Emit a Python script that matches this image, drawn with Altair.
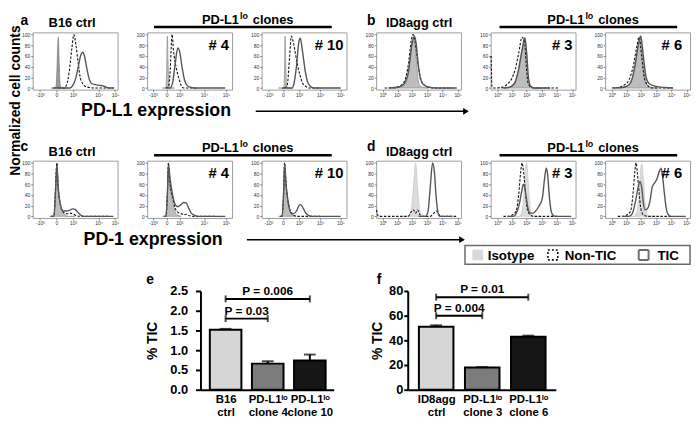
import altair as alt
import pandas as pd

FONT = "Liberation Sans"

# ---------------- histogram axes ----------------
BIEX_LABELS = ["-10³", "0", "10³", "10⁴", "10⁵"]
LOG_LABELS = ["10⁰", "10¹", "10²", "10³", "10⁴", "10⁵"]
TICKS_B16_CTRL = [8.5, 28, 47.5, 77.5, 97]
TICKS_B16_C4 = [7, 23, 38, 67, 93]
TICKS_B16_C10 = [8, 25, 44, 69, 93]
TICKS_ID8 = [8, 25, 42, 60, 78, 96]
COUNT_TICKS = [0, 20, 40, 60, 80, 100]

# ---------------- histogram curves: [axis position (0-100), % of max] ----------------
# a: PD-L1 on B16
ISO_A_CTRL = [[22, 0], [27, 0], [28.5, 30], [29.5, 80], [30.2, 95], [31, 60], [32, 15], [33, 3], [34.5, 0], [40, 0]]
NON_A_CTRL = [[30, 0], [37, 0], [40, 6], [43, 30], [46, 72], [48.5, 100], [51, 80], [53.5, 48], [56, 20], [59, 8], [62, 3], [67, 1], [72, 0], [95, 0]]
TIC_A_CTRL = [[24, 0], [44, 0], [47, 4], [51, 20], [54, 42], [57, 63], [59, 67], [61, 60], [64, 35], [67, 15], [70, 8], [75, 6], [80, 5], [83, 4], [86, 2], [90, 0], [96, 0]]
ISO_A_4 = [[18, 0], [22, 0], [23, 40], [23.8, 97], [24.6, 50], [25.5, 10], [26.5, 0], [32, 0]]
NON_A_4 = [[22, 0], [25, 2], [27, 30], [29.4, 100], [31, 70], [34, 40], [37, 20], [40, 5], [43, 0], [60, 0]]
TIC_A_4 = [[22, 0], [27, 0], [30, 10], [33, 45], [36, 75], [38, 70], [41, 40], [44, 15], [47, 5], [52, 1], [58, 0], [92, 0]]
ISO_A_10 = [[20, 0], [26, 0], [27, 40], [27.5, 97], [28.3, 50], [29.3, 8], [30.5, 0], [35, 0]]
NON_A_10 = [[27, 0], [30, 5], [33, 60], [35, 97], [38, 80], [42, 45], [45, 25], [48, 10], [52, 3], [56, 0], [70, 0]]
TIC_A_10 = [[24, 0], [36, 0], [38, 8], [41, 40], [44, 88], [45.5, 93], [48, 70], [51, 35], [54, 12], [57, 4], [62, 0], [93, 0]]
# b: PD-L1 on ID8agg
ISO_B_CTRL = [[20, 0], [28, 2], [33, 6], [37, 20], [40, 55], [42.5, 88], [44, 95], [45.5, 85], [47.5, 50], [49.5, 15], [52, 4], [56, 1], [62, 0]]
NON_B_CTRL = [[10, 0], [22, 1], [29, 5], [34, 15], [38, 45], [41.5, 90], [43.5, 100], [45.5, 90], [48.5, 55], [51.5, 25], [55, 8], [61, 2], [70, 0], [90, 0]]
TIC_B_CTRL = [[15, 0], [27, 2], [33, 8], [38, 30], [42, 80], [45, 97], [47, 85], [49.5, 45], [52, 18], [56, 6], [64, 1], [75, 0], [95, 0]]
ISO_B_3 = [[12, 0], [20, 1], [27, 8], [32, 30], [36, 65], [40, 95], [42, 70], [44, 25], [46, 5], [50, 0], [60, 0]]
NON_B_3 = [[0.5, 60], [1.5, 3], [4, 0], [15, 2], [20, 8], [25, 18], [29, 35], [33, 65], [37, 95], [40, 85], [42, 40], [44, 10], [47, 2], [52, 0], [80, 0]]
TIC_B_3 = [[15, 0], [21, 1], [28, 8], [33, 35], [37, 70], [40.5, 93], [42.5, 65], [44.5, 20], [47, 4], [52, 0], [70, 0]]
ISO_B_6 = [[15, 0], [22, 1], [28, 6], [33, 25], [37, 60], [41.5, 98], [44, 60], [47, 20], [50, 5], [55, 1], [62, 0]]
NON_B_6 = [[8, 0], [15, 1], [22, 5], [28, 15], [33, 40], [37, 75], [40, 95], [43, 60], [46, 20], [50, 5], [55, 0], [80, 0]]
TIC_B_6 = [[10, 0], [20, 1], [25, 3], [30, 10], [35, 40], [39, 80], [42, 97], [45, 60], [48, 22], [52, 8], [60, 3], [70, 1], [80, 0]]
# c: PD-1 on B16
ISO_C_CTRL = [[20, 0], [25, 0], [26.5, 25], [27.7, 80], [28.5, 97], [30, 60], [32, 25], [35, 10], [38, 3], [42, 0], [50, 0]]
NON_C_CTRL = [[22, 0], [25, 0], [26.5, 40], [28.5, 100], [30, 55], [33, 20], [36, 8], [40, 5], [44, 6], [48, 4], [52, 1], [58, 0], [90, 0]]
TIC_C_CTRL = [[22, 0], [25, 0], [27, 50], [28.5, 95], [30, 55], [33, 20], [36, 10], [40, 10], [43, 11], [47, 14], [50, 13], [53, 8], [56, 3], [60, 0], [95, 0]]
ISO_C_4 = [[18, 0], [22, 0], [23.5, 30], [25, 95], [26.5, 70], [29, 35], [31, 20], [33, 8], [36, 2], [40, 0]]
NON_C_4 = [[20, 0], [22, 0], [24, 50], [25, 100], [27, 60], [30, 35], [33, 15], [36, 8], [40, 5], [43, 3], [46, 4], [50, 1], [55, 0], [80, 0]]
TIC_C_4 = [[20, 0], [22, 0], [24, 50], [25, 95], [27, 70], [30, 40], [33, 22], [36, 18], [40, 22], [43, 26], [46, 25], [49, 15], [52, 6], [56, 2], [60, 0], [92, 0]]
ISO_C_10 = [[20, 0], [24, 0], [25.5, 30], [27, 97], [28.5, 60], [31, 25], [34, 8], [37, 2], [40, 0]]
NON_C_10 = [[22, 0], [24, 0], [26, 50], [27, 100], [29, 55], [32, 20], [35, 6], [38, 2], [42, 0], [70, 0]]
TIC_C_10 = [[22, 0], [24, 0], [26, 50], [27, 97], [29, 55], [32, 20], [35, 6], [38, 5], [41, 10], [44, 20], [46, 22], [49, 15], [52, 6], [55, 2], [60, 0], [93, 0]]
# d: PD-1 on ID8agg
ISO_D_CTRL = [[30, 0], [38, 0], [41, 8], [43.5, 45], [46.5, 100], [49, 50], [51.5, 10], [54, 0], [60, 0]]
NON_D_CTRL = [[0.5, 12], [1.5, 4], [3, 0], [38, 0], [41, 8], [44, 12], [46.5, 6], [49, 12], [51.5, 3], [55, 0], [64, 0], [68, 6], [71, 10], [74, 3], [78, 0], [96, 0]]
TIC_D_CTRL = [[50, 0], [58, 0], [61, 8], [63.5, 50], [66.5, 100], [68.5, 85], [70.5, 40], [72.5, 10], [75, 0], [90, 0]]
ISO_D_3 = [[28, 0], [34, 0], [37, 10], [39, 40], [41, 90], [42.5, 100], [44, 70], [46, 25], [48, 5], [51, 0], [60, 0]]
NON_D_3 = [[15, 0], [22, 0], [26, 3], [30, 10], [33, 40], [35.5, 85], [37, 100], [39, 80], [41, 45], [43, 15], [46, 4], [50, 0], [80, 0]]
TIC_D_3 = [[20, 0], [27, 0], [30, 5], [34, 25], [37, 50], [38.5, 60], [40, 55], [42, 35], [44, 15], [47, 6], [50, 6], [54, 12], [58, 22], [61, 35], [63.5, 70], [65.5, 90], [67, 80], [69, 40], [71, 12], [73, 3], [76, 0], [95, 0]]
ISO_D_6 = [[28, 0], [34, 0], [37, 8], [40, 40], [42, 90], [43.5, 98], [45, 70], [47, 25], [49, 5], [52, 0], [60, 0]]
NON_D_6 = [[15, 0], [22, 0], [26, 3], [30, 10], [33, 45], [35, 85], [36.5, 100], [38, 80], [40, 45], [42, 15], [45, 3], [50, 0], [80, 0]]
TIC_D_6 = [[20, 0], [28, 0], [32, 5], [36, 30], [39, 55], [41, 65], [43, 55], [45, 25], [47, 12], [50, 15], [53, 30], [55.5, 55], [58, 62], [61, 70], [64, 85], [66, 90], [68, 70], [70, 40], [72, 15], [74, 4], [77, 0], [95, 0]]

LEGEND_ITEMS = ["Isotype", "Non-TIC", "TIC"]

# ---------------- bar charts ----------------
E_CATS = ["B16 ctrl", "PD-L1lo clone 4", "PD-L1lo clone 10"]
E_LINES = [["B16", "ctrl"], ["PD-L1ˡᵒ", "clone 4"], ["PD-L1ˡᵒ", "clone 10"]]
E_TIC = [1.52, 0.66, 0.74]
E_SEM = [0.02, 0.06, 0.15]
E_P_FROM = [0, 0]
E_P_TO = [1, 2]
E_P_AT = [1.8, 2.3]
E_P_TEXT = ["P = 0.03", "P = 0.006"]
E_Y_TICKS = [0, 0.5, 1.0, 1.5, 2.0, 2.5]

F_CATS = ["ID8agg ctrl", "PD-L1lo clone 3", "PD-L1lo clone 6"]
F_LINES = [["ID8agg", "ctrl"], ["PD-L1ˡᵒ", "clone 3"], ["PD-L1ˡᵒ", "clone 6"]]
F_TIC = [51, 18, 43]
F_SEM = [1.2, 0.3, 0.8]
F_P_FROM = [0, 0]
F_P_TO = [1, 2]
F_P_AT = [60, 75]
F_P_TEXT = ["P = 0.004", "P = 0.01"]
F_Y_TICKS = [0, 20, 40, 60, 80]

# ---------------- styles ----------------
BAR_FILLS = ["#d6d6d6", "#7c7c7c", "#171717"]
PW, PH = 86, 58
NOFRAME = alt.ViewBackground(stroke="transparent")
INDEP = dict(fill="independent", stroke="independent", strokeDash="independent")

ONE = pd.DataFrame({"k": [0]})


def txt(s, x, y, size=13, align="center", baseline="alphabetic", angle=None):
    kw = dict(align=align, baseline=baseline, fontSize=size, fontWeight="bold", color="black")
    if angle is not None:
        kw["angle"] = angle
    return alt.Chart(ONE).mark_text(**kw).encode(x=alt.value(x), y=alt.value(y), text=alt.value(s))


def hline(x1, x2, y, w=2.0):
    return alt.Chart(ONE).mark_rule(color="black", strokeWidth=w).encode(
        x=alt.value(x1), x2=alt.value(x2), y=alt.value(y))


def arrowhead(x, y):
    return alt.Chart(ONE).mark_point(shape="triangle-right", filled=True, size=45, color="black",
                                     opacity=1).encode(x=alt.value(x), y=alt.value(y))


def clones_header(xr, yb, lx1, lx2, ly):
    return [txt("PD-L1", xr, yb, 13, align="right"),
            txt("lo", xr + 1, yb - 5, 9, align="left"),
            txt("clones", xr + 14, yb, 13, align="left"),
            hline(lx1, lx2, ly, 2.5)]


def swatch(x, y, fill, stroke, width, dash):
    return alt.Chart(ONE).mark_square(size=100, fill=fill, stroke=stroke, strokeWidth=width, strokeDash=dash,
                                      opacity=1).encode(x=alt.value(x), y=alt.value(y))


def legend_marks(x0, y0):
    box = alt.Chart(ONE).mark_rect(fill="white", stroke="#6a6a6a", strokeWidth=1.5).encode(
        x=alt.value(x0), x2=alt.value(x0 + 228), y=alt.value(y0), y2=alt.value(y0 + 19))
    yc = y0 + 9.5
    return [box,
            swatch(x0 + 13, yc, "#d9d9d9", "#d9d9d9", 1, [1, 0]),
            txt(LEGEND_ITEMS[0], x0 + 23, yc + 5, 13.5, align="left"),
            swatch(x0 + 89, yc, "white", "#111111", 1.6, [2, 2]),
            txt(LEGEND_ITEMS[1], x0 + 101, yc + 5, 13.5, align="left"),
            swatch(x0 + 181, yc, "white", "#6e6e6e", 2, [1, 0]),
            txt(LEGEND_ITEMS[2], x0 + 195, yc + 5, 13.5, align="left")]


def label_expr(ticks, labels):
    parts = [f"datum.value == {t} ? '{l}'" for t, l in zip(ticks, labels)]
    return " : ".join(parts) + " : ''"


def hist(iso, non, tic, ticks, labels, iso_fill, iso_line, extras):
    x = alt.X("x:Q", scale=alt.Scale(domain=[0, 100], nice=False, zero=False),
              axis=alt.Axis(values=ticks, labelExpr=label_expr(ticks, labels), title=None, grid=False,
                            domain=False, tickSize=2, tickWidth=0.8, tickColor="#666",
                            labelFontSize=5, labelColor="#333", labelPadding=1,
                            labelFlush=False, labelOverlap=False))
    y = alt.Y("y:Q", scale=alt.Scale(domain=[-3, 104], nice=False, zero=False),
              axis=alt.Axis(values=COUNT_TICKS, title=None, grid=False, domain=False, tickSize=2,
                            tickWidth=0.8, tickColor="#666", labelFontSize=5, labelColor="#333",
                            labelPadding=1))
    a = alt.Chart(pd.DataFrame(iso, columns=["x", "y"])).mark_area(
        interpolate="monotone", fill=iso_fill, stroke=iso_line, strokeWidth=0.7).encode(x, y, y2=alt.datum(0))
    n = alt.Chart(pd.DataFrame(non, columns=["x", "y"])).mark_line(
        interpolate="monotone", color="#111111", strokeDash=[2.5, 1.6], strokeWidth=1.1).encode(x, y)
    t = alt.Chart(pd.DataFrame(tic, columns=["x", "y"])).mark_line(
        interpolate="monotone", color="#555555", strokeWidth=1.4).encode(x, y)
    return alt.layer(a, n, t, *extras).properties(width=PW, height=PH)


def bar_panel(cats, lines, vals, errs, p_from, p_to, p_at, p_text, ydom, yticks, yfmt, xdom, bw, width,
              lab_pad, tick_size, title_pad, letter, letter_x):
    n = len(cats)
    df = pd.DataFrame({"i": list(range(n)), "cat": cats, "v": vals, "e": errs})
    lab = " : ".join(f"datum.value == {i} ? {lines[i]!r}" for i in range(n - 1)) + f" : {lines[n - 1]!r}"
    xax = alt.Axis(values=list(range(n)), labelExpr=lab, title=None, grid=False, ticks=False, domainWidth=2,
                   domainColor="black", labelFontSize=11.5, labelFontWeight="bold", labelColor="black",
                   labelPadding=4, labelLineHeight=13, labelOverlap=False, labelFlush=False)
    yax = alt.Axis(values=yticks, format=yfmt, title="% TIC", titleFontSize=14, titleFontWeight="bold",
                   titleColor="black", titlePadding=title_pad, labelFontSize=13, labelFontWeight="bold",
                   labelColor="black", labelPadding=lab_pad, domainWidth=2, domainColor="black", tickWidth=2,
                   tickSize=tick_size, tickColor="black", grid=False)
    xs = alt.Scale(domain=xdom, nice=False, zero=False)
    ys = alt.Scale(domain=ydom, nice=False)

    def xe(f):
        return alt.X(f"{f}:Q", scale=xs, axis=xax)

    def ye(f):
        return alt.Y(f"{f}:Q", scale=ys, axis=yax)

    bars = alt.Chart(df).mark_bar(size=bw, stroke="black", strokeWidth=2).encode(
        xe("i"), ye("v"),
        fill=alt.Fill("cat:N", scale=alt.Scale(domain=cats, range=BAR_FILLS), legend=None))
    errbar = alt.Chart(df).transform_calculate(t="datum.v + datum.e").mark_rule(
        strokeWidth=2, color="black").encode(xe("i"), ye("v"), y2="t:Q")
    cap = alt.Chart(df).transform_calculate(t="datum.v + datum.e").mark_tick(
        orient="horizontal", size=12, thickness=2, color="black").encode(xe("i"), ye("t"))
    bdf = pd.DataFrame({"b0": p_from, "b1": p_to, "at": p_at, "txt": p_text})
    brk = alt.Chart(bdf).mark_rule(strokeWidth=2, color="black").encode(xe("b0"), x2="b1:Q", y=ye("at"))
    ends = alt.Chart(bdf).transform_fold(["b0", "b1"], as_=["end", "pos"]).mark_tick(
        orient="vertical", size=7, thickness=2, color="black").encode(xe("pos"), ye("at"))
    ptxt = alt.Chart(bdf).transform_calculate(mid="(datum.b0 + datum.b1) / 2").mark_text(
        dy=-4, baseline="alphabetic", fontSize=12, fontWeight="bold", color="black").encode(
        xe("mid"), ye("at"), text="txt:N")
    return alt.layer(bars, errbar, cap, brk, ends, ptxt, txt(letter, letter_x, -7, 14)).properties(
        width=width, height=100, view=NOFRAME)


def spacer(w, h):
    return alt.Chart(ONE).mark_point(opacity=0, size=1).encode(x=alt.value(0), y=alt.value(0)).properties(
        width=w, height=h, view=NOFRAME)


ISO_DARK, ISO_DARK_LINE = "#9a9a9a", "#7a7a7a"
ISO_MID, ISO_MID_LINE = "#bdbdbd", "#8a8a8a"
ISO_LIGHT, ISO_LIGHT_LINE = "#dcdcdc", "#c4c4c4"

a_ctrl = hist(ISO_A_CTRL, NON_A_CTRL, TIC_A_CTRL, TICKS_B16_CTRL, BIEX_LABELS, ISO_DARK, ISO_DARK_LINE,
              [txt("a", -8.5, -8, 14), txt("B16 ctrl", 40, -5, 13),
               txt("Normalized cell counts", -17, 69, 14, baseline="middle", angle=270),
               txt("PD-L1 expression", 125, 85, 18), hline(226, 437, 80, 1.5), arrowhead(439, 80)])
a_4 = hist(ISO_A_4, NON_A_4, TIC_A_4, TICKS_B16_C4, BIEX_LABELS, ISO_MID, ISO_MID_LINE,
           clones_header(93, -9, 7, 187, -5.5) + [txt("# 4", 83, 18, 15, align="right")])
a_10 = hist(ISO_A_10, NON_A_10, TIC_A_10, TICKS_B16_C10, BIEX_LABELS, ISO_MID, ISO_MID_LINE,
            [txt("# 10", 83, 18, 15, align="right")])
b_ctrl = hist(ISO_B_CTRL, NON_B_CTRL, TIC_B_CTRL, TICKS_ID8, LOG_LABELS, ISO_MID, ISO_MID_LINE,
              [txt("b", -5, -8, 14), txt("ID8agg ctrl", 43.5, -5, 13)])
b_3 = hist(ISO_B_3, NON_B_3, TIC_B_3, TICKS_ID8, LOG_LABELS, ISO_MID, ISO_MID_LINE,
           clones_header(95, -9, 9, 189, -5.5) + [txt("# 3", 83, 18, 15, align="right")])
b_6 = hist(ISO_B_6, NON_B_6, TIC_B_6, TICKS_ID8, LOG_LABELS, ISO_MID, ISO_MID_LINE,
           [txt("# 6", 78, 18, 15, align="right")])

c_ctrl = hist(ISO_C_CTRL, NON_C_CTRL, TIC_C_CTRL, TICKS_B16_CTRL, BIEX_LABELS, ISO_MID, ISO_MID_LINE,
              [txt("c", -8.5, -10, 14), txt("B16 ctrl", 40, -5, 13),
               txt("PD-1 expression", 122, 85, 18), hline(217, 433, 80, 1.5), arrowhead(435, 80)])
c_4 = hist(ISO_C_4, NON_C_4, TIC_C_4, TICKS_B16_C4, BIEX_LABELS, ISO_MID, ISO_MID_LINE,
           clones_header(93, -9, 7, 187, -5.5) + [txt("# 4", 83, 18, 15, align="right")])
c_10 = hist(ISO_C_10, NON_C_10, TIC_C_10, TICKS_B16_C10, BIEX_LABELS, ISO_MID, ISO_MID_LINE,
            [txt("# 10", 83, 18, 15, align="right")])
d_ctrl = hist(ISO_D_CTRL, NON_D_CTRL, TIC_D_CTRL, TICKS_ID8, LOG_LABELS, ISO_LIGHT, ISO_LIGHT_LINE,
              [txt("d", -5, -10, 14), txt("ID8agg ctrl", 43.5, -5, 13)])
d_3 = hist(ISO_D_3, NON_D_3, TIC_D_3, TICKS_ID8, LOG_LABELS, ISO_LIGHT, ISO_LIGHT_LINE,
           clones_header(95, -9, 9, 189, -5.5) + [txt("# 3", 83, 18, 15, align="right")])
d_6 = hist(ISO_D_6, NON_D_6, TIC_D_6, TICKS_ID8, LOG_LABELS, ISO_LIGHT, ISO_LIGHT_LINE,
           [txt("# 6", 78, 18, 15, align="right")] + legend_marks(-142, 86))

e_chart = bar_panel(E_CATS, E_LINES, E_TIC, E_SEM, E_P_FROM, E_P_TO, E_P_AT, E_P_TEXT, [0, 2.5], E_Y_TICKS,
                    ".1f", [-0.48, 2.45], 32, 135, 8, 5, 10, "e", -51)
f_chart = bar_panel(F_CATS, F_LINES, F_TIC, F_SEM, F_P_FROM, F_P_TO, F_P_AT, F_P_TEXT, [0, 80], F_Y_TICKS,
                    "d", [-0.51, 2.49], 35, 150, 1, 4, 4, "f", -29)

top = alt.concat(a_ctrl, a_4, a_10, b_ctrl, b_3, b_6,
                 c_ctrl, c_4, c_10, d_ctrl, d_3, d_6,
                 columns=6, spacing={"row": 72, "column": 30}, bounds="flush").resolve_scale(
    **INDEP).resolve_legend(**INDEP)
bottom = alt.hconcat(spacer(140, 100), e_chart, spacer(15, 100), f_chart, spacing=30,
                     bounds="flush").resolve_scale(**INDEP).resolve_legend(**INDEP)

chart = alt.vconcat(top, bottom, spacing=6).resolve_scale(**INDEP).resolve_legend(**INDEP).properties(
    padding={"left": 0, "top": 0, "right": 0, "bottom": 0}
).configure(font=FONT).configure_view(stroke="#9c9c9c", strokeWidth=1)

chart.save("out.html", embed_options={"renderer": "svg", "actions": False})
